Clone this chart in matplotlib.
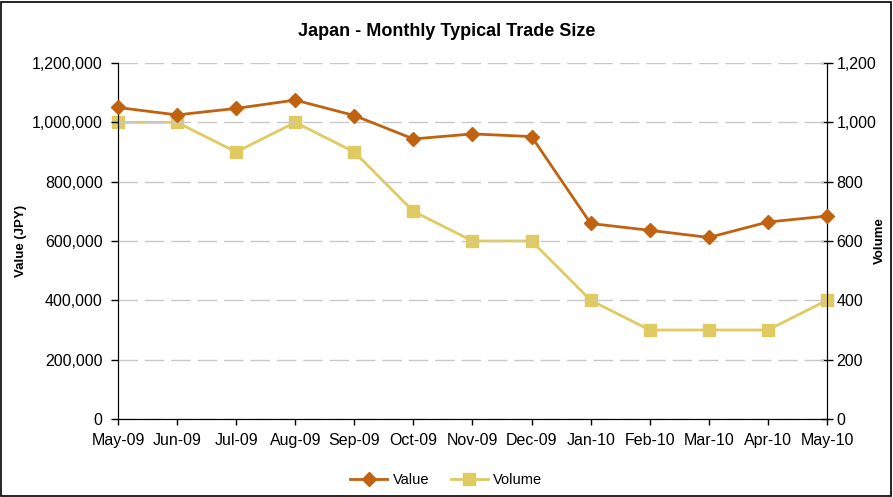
import matplotlib
matplotlib.use("Agg")
import matplotlib.pyplot as plt
from matplotlib.ticker import FuncFormatter
from matplotlib.patches import Rectangle

plt.rcParams['font.family'] = ['Liberation Sans', 'DejaVu Sans']

months = ["May-09", "Jun-09", "Jul-09", "Aug-09", "Sep-09", "Oct-09", "Nov-09",
          "Dec-09", "Jan-10", "Feb-10", "Mar-10", "Apr-10", "May-10"]
value_jpy = [1050000, 1025000, 1047000, 1075000, 1023000, 944000, 961000,
             952000, 659000, 636000, 612000, 664000, 684000]
volume = [1000, 1000, 900, 1000, 900, 700, 600, 600, 400, 300, 300, 300, 400]

value_color = "#C0620F"
volume_color = "#DFCB62"

fig = plt.figure(figsize=(8.93, 4.97), dpi=100)
ax = fig.add_axes([118/893, 1-419/497, (827-118)/893, (419-63)/497])
ax2 = ax.twinx()

x = list(range(len(months)))
l1, = ax.plot(x, value_jpy, color=value_color, lw=2, marker="D", ms=7,
              label="Value", zorder=4, clip_on=False)
l2, = ax2.plot(x, volume, color=volume_color, lw=2, marker="s", ms=8.5,
               label="Volume", zorder=3, clip_on=False)
ax.set_zorder(ax2.get_zorder() + 1)
ax.patch.set_visible(False)

ax.set_xlim(0, len(months) - 1)
ax.set_ylim(0, 1200000)
ax2.set_ylim(0, 1200)
ax.set_yticks(range(0, 1200001, 200000))
ax2.set_yticks(range(0, 1201, 200))
ax.yaxis.set_major_formatter(FuncFormatter(lambda v, p: f"{int(v):,}"))
ax2.yaxis.set_major_formatter(FuncFormatter(lambda v, p: f"{int(v):,}"))
ax.set_xticks(x)
ax.set_xticklabels(months)

ax.grid(axis="y", color="#C8C8C8", linestyle=(0, (14, 5)), lw=1)
for a in (ax, ax2):
    a.spines["top"].set_visible(False)
    a.tick_params(labelsize=11.5, colors="#000000", length=5, width=1)
ax.spines["left"].set_color("#000000")
ax2.spines["right"].set_color("#000000")
ax.spines["bottom"].set_color("#000000")
ax.tick_params(axis="x", pad=6, length=4)
ax.tick_params(axis="y", pad=6)
ax2.tick_params(axis="y", direction="inout", length=8, pad=3)

fig.text(21/893, 1-241/497, "Value (JPY)", fontsize=9.5, fontweight="bold",
         rotation=90, ha="center", va="center")
fig.text(880/893, 1-241/497, "Volume", fontsize=9.5, fontweight="bold",
         rotation=90, ha="center", va="center")
fig.text(0.5, 1-31/497, "Japan - Monthly Typical Trade Size", ha="center",
         va="center", fontsize=13, fontweight="bold")

fig.legend(handles=[l1, l2], loc="center", bbox_to_anchor=(0.5, 1-480/497),
           ncol=2, frameon=False, fontsize=10.5, handlelength=2.5,
           columnspacing=1.5, handletextpad=0.4)

fig.patches.append(Rectangle((1/893, 1/497), 1-3/893, 1-3/497,
                             transform=fig.transFigure, fill=False,
                             edgecolor="#000000", lw=1.2))

fig.savefig("out.png", dpi=100)
